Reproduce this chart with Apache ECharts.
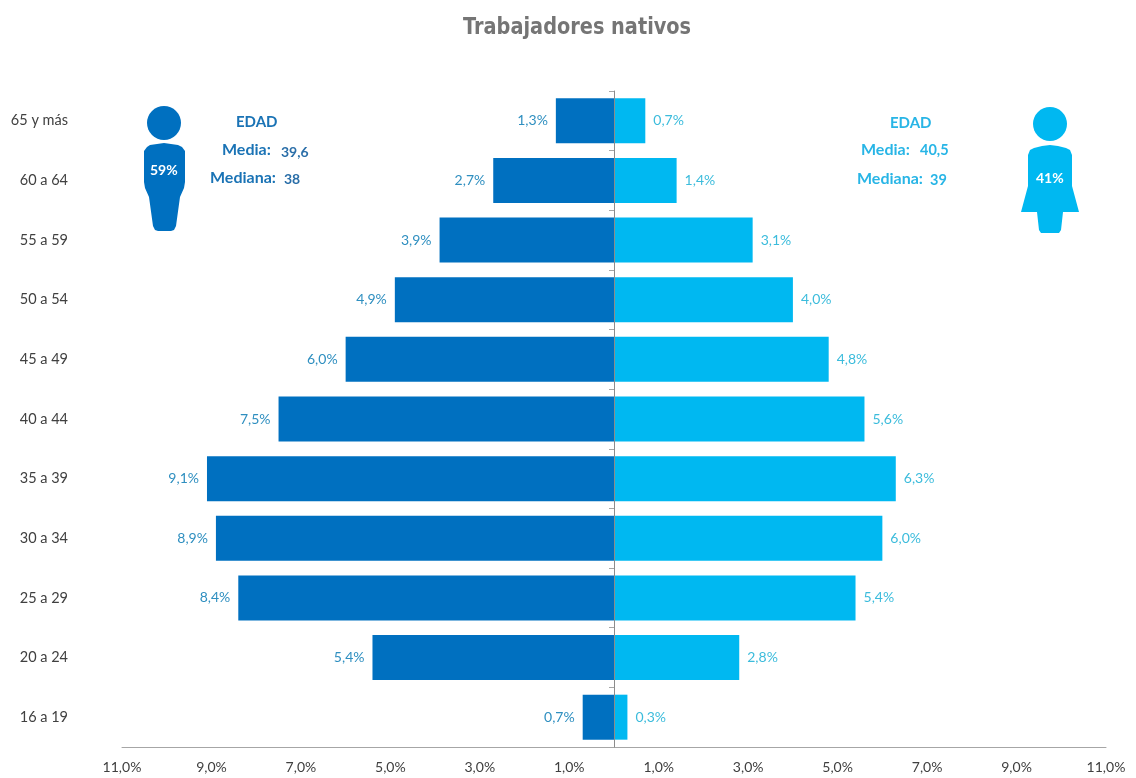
<!DOCTYPE html>
<html>
<head>
<meta charset="utf-8">
<script src="https://cdn.jsdelivr.net/npm/echarts@6/dist/echarts.min.js"></script>
<style>
  html, body { margin: 0; padding: 0; background: #fff; }
  #main { width: 1136px; height: 778px; }
</style>
</head>
<body>
<div id="main"></div>
<script>
// bottom to top, the category axis starts at the bottom
var edades = ['16 a 19', '20 a 24', '25 a 29', '30 a 34', '35 a 39', '40 a 44', '45 a 49', '50 a 54', '55 a 59', '60 a 64', '65 y más'];
var hombres = [0.7, 5.4, 8.4, 8.9, 9.1, 7.5, 6.0, 4.9, 3.9, 2.7, 1.3];
var mujeres = [0.3, 2.8, 5.4, 6.0, 6.3, 5.6, 4.8, 4.0, 3.1, 1.4, 0.7];
var marcas = [-11, -9, -7, -5, -3, -1, 1, 3, 5, 7, 9, 11];

var azul = '#0070c0';
var celeste = '#00b8f1';
var fuente = 'Lato, "Open Sans", sans-serif';

// icon outlines
var cuerpoHombre = [[150, 145], [157, 144], [164, 143], [171, 144], [178, 145], [182, 147], [185, 151], [185, 182], [184, 188], [180, 197], [176, 226], [174, 230], [171, 231], [158, 231], [155, 230], [153, 226], [149, 197], [145, 188], [144, 182], [144, 151], [147, 147]];
var cuerpoMujer = [[1034, 148], [1042, 146], [1050, 145], [1058, 146], [1066, 148], [1070, 150], [1072, 155], [1072, 186], [1079, 212], [1063, 212], [1061, 230], [1059, 233], [1041, 233], [1039, 230], [1037, 212], [1021, 212], [1028, 186], [1028, 155], [1030, 150]];

function pct(v) {
    return Math.abs(v).toFixed(1).replace('.', ',') + '%';
}

function texto(x, y, str, color, size) {
    return {
        type: 'text',
        x: x,
        y: y,
        z: 10,
        style: {
            text: str,
            fill: color,
            font: 'bold ' + size + 'px ' + fuente,
            textAlign: 'left',
            textVerticalAlign: 'middle'
        }
    };
}

var myChart = echarts.init(document.getElementById('main'));

var option = {
    animation: false,
    backgroundColor: '#fff',
    textStyle: { fontFamily: fuente },
    grid: { left: 122, right: 30, top: 91, bottom: 31, outerBoundsMode: 'none' },
    xAxis: {
        type: 'value',
        min: -11,
        max: 11,
        splitLine: { show: false },
        axisLine: { show: true, lineStyle: { color: '#a6a6a6' } },
        axisTick: { show: false },
        axisLabel: {
            customValues: marcas,
            formatter: pct,
            color: '#404040',
            fontSize: 14,
            margin: 13,
            hideOverlap: false
        }
    },
    yAxis: [
        {
            // labels only, at the left edge
            type: 'category',
            data: edades,
            position: 'left',
            axisLine: { show: false, onZero: false },
            axisTick: { show: false },
            axisLabel: { color: '#404040', fontSize: 14.5, margin: 54 }
        },
        {
            // central line at zero
            type: 'category',
            data: edades,
            position: 'left',
            z: 5,
            axisLine: { show: true, onZero: true, lineStyle: { color: '#8c8c8c' } },
            axisTick: { show: true, length: 5, lineStyle: { color: '#a6a6a6' } },
            axisLabel: { show: false }
        }
    ],
    series: [
        {
            name: 'Hombres',
            type: 'bar',
            data: hombres.map(function (v) { return -v; }),
            barWidth: 45,
            barGap: '-100%',
            itemStyle: { color: azul },
            label: {
                show: true,
                position: 'left',
                distance: 8,
                formatter: function (p) { return pct(p.value); },
                color: '#2f8fc0',
                fontSize: 14
            }
        },
        {
            name: 'Mujeres',
            type: 'bar',
            data: mujeres,
            barWidth: 45,
            barGap: '-100%',
            itemStyle: { color: celeste },
            label: {
                show: true,
                position: 'right',
                distance: 8,
                formatter: function (p) { return pct(p.value); },
                color: '#3cbcdc',
                fontSize: 14
            }
        }
    ],
    graphic: [
        {
            type: 'text',
            x: 463,
            y: 28,
            scaleX: 0.84,
            style: {
                text: 'Trabajadores nativos',
                fill: '#757575',
                font: 'bold 23px "DejaVu Sans", sans-serif',
                textAlign: 'left',
                textVerticalAlign: 'middle'
            }
        },
        // figura hombre
        { type: 'circle', shape: { cx: 164, cy: 123, r: 17 }, style: { fill: azul } },
        { type: 'polygon', shape: { points: cuerpoHombre }, style: { fill: azul } },
        texto(150, 170, '59%', '#fff', 14),
        texto(236, 122, 'EDAD', '#1a73b5', 15),
        texto(222, 150, 'Media:', '#1a73b5', 16),
        texto(281, 152, '39,6', '#2a6ea8', 14),
        texto(210, 178, 'Mediana:', '#1a73b5', 16),
        texto(284, 179, '38', '#2a6ea8', 14),
        // figura mujer
        { type: 'circle', shape: { cx: 1050, cy: 124, r: 17 }, style: { fill: celeste } },
        { type: 'polygon', shape: { points: cuerpoMujer }, style: { fill: celeste } },
        texto(1036, 178, '41%', '#fff', 14),
        texto(890, 123, 'EDAD', '#28b5e6', 15),
        texto(861, 150, 'Media:', '#28b5e6', 16),
        texto(920, 150, '40,5', '#28b5e6', 14.5),
        texto(857, 179, 'Mediana:', '#28b5e6', 16),
        texto(930, 180, '39', '#28b5e6', 14.5)
    ]
};

myChart.setOption(option);
</script>
</body>
</html>
